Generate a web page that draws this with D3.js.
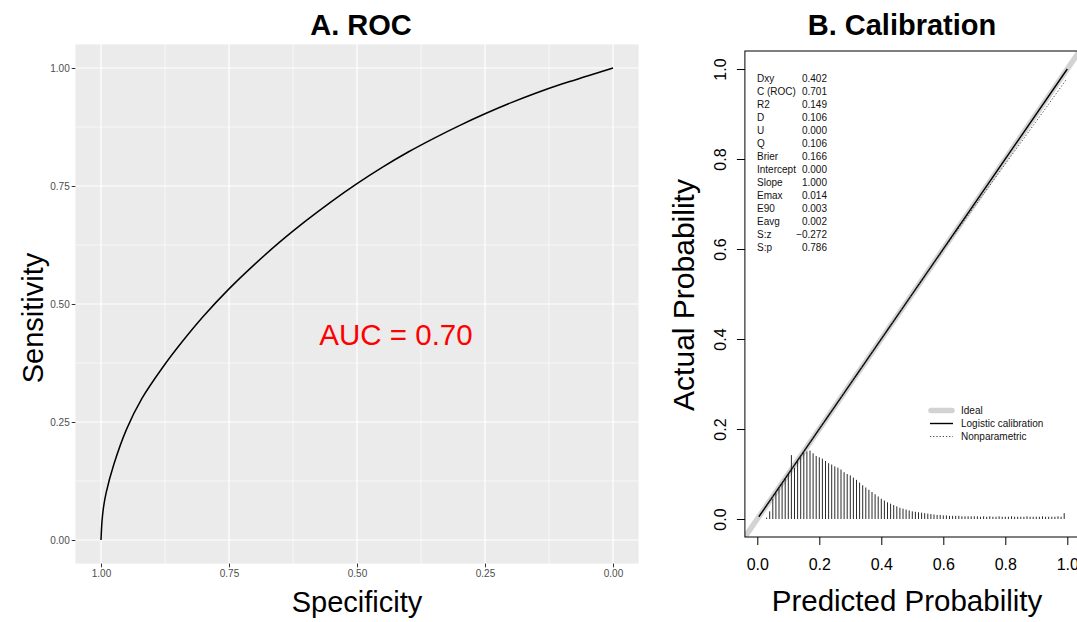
<!DOCTYPE html>
<html>
<head>
<meta charset="utf-8">
<script src="https://cdn.jsdelivr.net/npm/d3@7"></script>
<style>
  html, body { margin: 0; padding: 0; background: #fff; }
  svg { display: block; font-family: "Liberation Sans", Arial, Helvetica, sans-serif; }
</style>
</head>
<body>
<svg id="fig" width="1077" height="622"></svg>
<script>
// ---------- ROC curve (specificity, sensitivity) ----------
const rocSpec = [1.000, 0.998, 0.995, 0.990, 0.975, 0.950, 0.920, 0.880, 0.840, 0.80, 0.75, 0.70, 0.65,
                 0.60, 0.55, 0.50, 0.45, 0.40, 0.35, 0.30, 0.25, 0.20, 0.15, 0.10, 0.05, 0.00];
const rocSens = [0.000, 0.040, 0.070, 0.100, 0.160, 0.235, 0.300, 0.365, 0.422, 0.474, 0.532, 0.584, 0.632,
                 0.676, 0.717, 0.755, 0.790, 0.822, 0.851, 0.878, 0.903, 0.926, 0.947, 0.966, 0.983, 1.000];
const rocTicks = [0, 0.25, 0.5, 0.75, 1];
const rocMinor = [0.125, 0.375, 0.625, 0.875];
const aucLabel = "AUC = 0.70";

// ---------- Calibration ----------
const statNames  = ["Dxy", "C (ROC)", "R2", "D", "U", "Q", "Brier", "Intercept", "Slope",
                    "Emax", "E90", "Eavg", "S:z", "S:p"];
const statValues = ["0.402", "0.701", "0.149", "0.106", "0.000", "0.106", "0.166", "0.000", "1.000",
                    "0.014", "0.003", "0.002", "\u22120.272", "0.786"];
const calTicks = [0, 0.2, 0.4, 0.6, 0.8, 1.0];
const legendLabels = ["Ideal", "Logistic calibration", "Nonparametric"];

// logistic calibration: intercept 0, slope 1
const logisticX = [0.005, 1.0];
const logisticY = [0.005, 1.0];
// nonparametric (loess) calibration curve
const nonparX = [0.03, 0.10, 0.20, 0.30, 0.40, 0.50, 0.60, 0.70, 0.80, 0.90, 0.995];
const nonparY = [0.031, 0.101, 0.201, 0.301, 0.401, 0.500, 0.598, 0.694, 0.789, 0.884, 0.975];

// distribution of predicted risks (spike histogram)
const riskX = [0.03,0.04,0.05,0.06,0.07,0.08,0.09,0.10,0.11,0.12,0.13,0.14,0.15,0.16,0.17,0.18,0.19,0.20,
  0.21,0.22,0.23,0.24,0.25,0.26,0.27,0.28,0.29,0.30,0.31,0.32,0.33,0.34,0.35,0.36,0.37,0.38,0.39,0.40,
  0.41,0.42,0.43,0.44,0.45,0.46,0.47,0.48,0.49,0.50,0.51,0.52,0.53,0.54,0.55,0.56,0.57,0.58,0.59,0.60,
  0.61,0.62,0.63,0.64,0.65,0.66,0.67,0.68,0.69,0.70,0.71,0.72,0.73,0.74,0.75,0.76,0.77,0.78,0.79,0.80,
  0.81,0.82,0.83,0.84,0.85,0.86,0.87,0.88,0.89,0.90,0.91,0.92,0.93,0.94,0.95,0.96,0.97,0.98,0.99];
const riskH = [0.003,0.017,0.045,0.058,0.068,0.080,0.089,0.100,0.142,0.114,0.128,0.137,0.147,0.150,0.152,0.146,0.140,0.137,
  0.134,0.129,0.124,0.121,0.117,0.114,0.110,0.104,0.100,0.097,0.092,0.087,0.081,0.075,0.070,0.065,0.060,0.055,0.050,0.045,
  0.041,0.037,0.034,0.031,0.028,0.025,0.023,0.021,0.019,0.017,0.016,0.015,0.014,0.013,0.012,0.011,0.010,0.009,0.009,0.008,
  0.008,0.007,0.007,0.007,0.007,0.006,0.006,0.006,0.006,0.006,0.006,0.005,0.006,0.005,0.006,0.005,0.005,0.006,0.005,0.005,
  0.005,0.006,0.005,0.005,0.005,0.005,0.006,0.005,0.005,0.005,0.005,0.006,0.005,0.005,0.005,0.005,0.006,0.005,0.013];

const svg = d3.select("#fig");
svg.append("rect").attr("width", 1077).attr("height", 622).attr("fill", "#fff");

// =============== Panel A: ROC ===============
const ax = d3.scaleLinear().domain([1.05, -0.05]).range([75.4, 638.6]);
const ay = d3.scaleLinear().domain([-0.05, 1.05]).range([563.6, 44.4]);
const gA = svg.append("g");

gA.append("rect")
  .attr("x", ax(1.05)).attr("y", ay(1.05))
  .attr("width", ax(-0.05) - ax(1.05)).attr("height", ay(-0.05) - ay(1.05))
  .attr("fill", "#ebebeb");

// minor grid
gA.selectAll("line.minx").data(rocMinor).join("line")
  .attr("x1", d => ax(d)).attr("x2", d => ax(d)).attr("y1", ay(1.05)).attr("y2", ay(-0.05))
  .attr("stroke", "#fff").attr("stroke-width", 0.6);
gA.selectAll("line.miny").data(rocMinor).join("line")
  .attr("y1", d => ay(d)).attr("y2", d => ay(d)).attr("x1", ax(1.05)).attr("x2", ax(-0.05))
  .attr("stroke", "#fff").attr("stroke-width", 0.6);
// major grid
gA.selectAll("line.majx").data(rocTicks).join("line")
  .attr("x1", d => ax(d)).attr("x2", d => ax(d)).attr("y1", ay(1.05)).attr("y2", ay(-0.05))
  .attr("stroke", "#fff").attr("stroke-width", 1.2);
gA.selectAll("line.majy").data(rocTicks).join("line")
  .attr("y1", d => ay(d)).attr("y2", d => ay(d)).attr("x1", ax(1.05)).attr("x2", ax(-0.05))
  .attr("stroke", "#fff").attr("stroke-width", 1.2);

// axes
const axB = gA.append("g").attr("transform", `translate(0,${ay(-0.05)})`)
  .call(d3.axisBottom(ax).tickValues(rocTicks).tickFormat(d3.format(".2f")).tickSize(3.7).tickPadding(3));
const axL = gA.append("g").attr("transform", `translate(${ax(1.05)},0)`)
  .call(d3.axisLeft(ay).tickValues(rocTicks).tickFormat(d3.format(".2f")).tickSize(3.7).tickPadding(2));
[axB, axL].forEach(g => {
  g.select(".domain").remove();
  g.selectAll("line").attr("stroke", "#333").attr("stroke-width", 1);
  g.selectAll("text").attr("fill", "#4d4d4d").attr("font-size", 10)
    .attr("font-family", "'Liberation Sans', Arial, sans-serif");
});

// ROC curve
const rocPts = rocSpec.map((s, i) => [s, rocSens[i]]);
gA.append("path").datum(rocPts)
  .attr("d", d3.line().x(d => ax(d[0])).y(d => ay(d[1])).curve(d3.curveCatmullRom.alpha(0.5)))
  .attr("fill", "none").attr("stroke", "#000").attr("stroke-width", 1.5);

gA.append("text").attr("x", 396).attr("y", 345).attr("text-anchor", "middle")
  .attr("font-size", 29.5).attr("fill", "#ff0000").text(aucLabel);

gA.append("text").attr("x", 361).attr("y", 35).attr("text-anchor", "middle")
  .attr("font-size", 29).attr("font-weight", "bold").text("A. ROC");
gA.append("text").attr("x", 357).attr("y", 612).attr("text-anchor", "middle")
  .attr("font-size", 29).text("Specificity");
gA.append("text").attr("transform", "translate(43,318) rotate(-90)").attr("text-anchor", "middle")
  .attr("font-size", 29).text("Sensitivity");

// =============== Panel B: Calibration ===============
const bx = d3.scaleLinear().domain([-0.04, 1.04]).range([744.9, 1079.7]);
const by = d3.scaleLinear().domain([-0.04, 1.04]).range([537, 51]);
const gB = svg.append("g");

gB.append("clipPath").attr("id", "calclip").append("rect")
  .attr("x", bx(-0.04)).attr("y", by(1.04))
  .attr("width", bx(1.04) - bx(-0.04)).attr("height", by(-0.04) - by(1.04));
const plotB = gB.append("g").attr("clip-path", "url(#calclip)");

// ideal line
plotB.append("line")
  .attr("x1", bx(-0.04)).attr("y1", by(-0.04)).attr("x2", bx(1.04)).attr("y2", by(1.04))
  .attr("stroke", "#d3d3d3").attr("stroke-width", 5.5);

// risk distribution spikes
plotB.selectAll("line.spike").data(riskX).join("line")
  .attr("x1", d => bx(d)).attr("x2", d => bx(d))
  .attr("y1", by(0)).attr("y2", (d, i) => by(riskH[i]))
  .attr("stroke", "#2a2a2a").attr("stroke-width", 1);

// logistic calibration
plotB.append("line")
  .attr("x1", bx(logisticX[0])).attr("y1", by(logisticY[0]))
  .attr("x2", bx(logisticX[1])).attr("y2", by(logisticY[1]))
  .attr("stroke", "#000").attr("stroke-width", 1.4);

// nonparametric
plotB.append("path").datum(nonparX.map((x, i) => [x, nonparY[i]]))
  .attr("d", d3.line().x(d => bx(d[0])).y(d => by(d[1])).curve(d3.curveMonotoneX))
  .attr("fill", "none").attr("stroke", "#444").attr("stroke-width", 1)
  .attr("stroke-dasharray", "1.2,2");

// box
gB.append("rect")
  .attr("x", bx(-0.04)).attr("y", by(1.04))
  .attr("width", bx(1.04) - bx(-0.04)).attr("height", by(-0.04) - by(1.04))
  .attr("fill", "none").attr("stroke", "#000").attr("stroke-width", 1);

// axes
const bxAxis = gB.append("g").attr("transform", `translate(0,${by(-0.04)})`)
  .call(d3.axisBottom(bx).tickValues(calTicks).tickFormat(d3.format(".1f")).tickSize(8).tickPadding(14));
const byAxis = gB.append("g").attr("transform", `translate(${bx(-0.04)},0)`)
  .call(d3.axisLeft(by).tickValues(calTicks).tickFormat(d3.format(".1f")).tickSize(8));
[bxAxis, byAxis].forEach(g => {
  g.select(".domain").remove();
  g.selectAll("line").attr("stroke", "#000").attr("stroke-width", 1);
  g.selectAll("text").attr("fill", "#000").attr("font-size", 16)
    .attr("font-family", "'Liberation Sans', Arial, sans-serif");
});
byAxis.selectAll(".tick text")
  .attr("x", null).attr("dy", null).attr("text-anchor", "middle")
  .attr("transform", "translate(-19,0) rotate(-90)");

// statistics table
const statG = gB.append("g").attr("font-size", 10).attr("fill", "#111");
statG.selectAll("text.name").data(statNames).join("text")
  .attr("x", 757).attr("y", (d, i) => 81.5 + i * 13).text(d => d);
statG.selectAll("text.val").data(statValues).join("text")
  .attr("x", 827).attr("y", (d, i) => 81.5 + i * 13).attr("text-anchor", "end").text(d => d);

// legend
const legG = gB.append("g").attr("font-size", 10).attr("fill", "#111");
const legY = [410.5, 423.5, 436.5];
legG.append("line").attr("x1", 931).attr("x2", 952).attr("y1", legY[0]).attr("y2", legY[0])
  .attr("stroke", "#d3d3d3").attr("stroke-width", 5.5).attr("stroke-linecap", "round");
legG.append("line").attr("x1", 930).attr("x2", 953).attr("y1", legY[1]).attr("y2", legY[1])
  .attr("stroke", "#000").attr("stroke-width", 1.4);
legG.append("line").attr("x1", 930).attr("x2", 953).attr("y1", legY[2]).attr("y2", legY[2])
  .attr("stroke", "#444").attr("stroke-width", 1).attr("stroke-dasharray", "1.2,2");
legG.selectAll("text").data(legendLabels).join("text")
  .attr("x", 961).attr("y", (d, i) => legY[i] + 3.5).text(d => d);

// titles
gB.append("text").attr("x", 902).attr("y", 35).attr("text-anchor", "middle")
  .attr("font-size", 29).attr("font-weight", "bold").text("B. Calibration");
gB.append("text").attr("x", 907).attr("y", 611).attr("text-anchor", "middle")
  .attr("font-size", 29.5).text("Predicted Probability");
gB.append("text").attr("transform", "translate(694,295) rotate(-90)").attr("text-anchor", "middle")
  .attr("font-size", 30).text("Actual Probability");
</script>
</body>
</html>
